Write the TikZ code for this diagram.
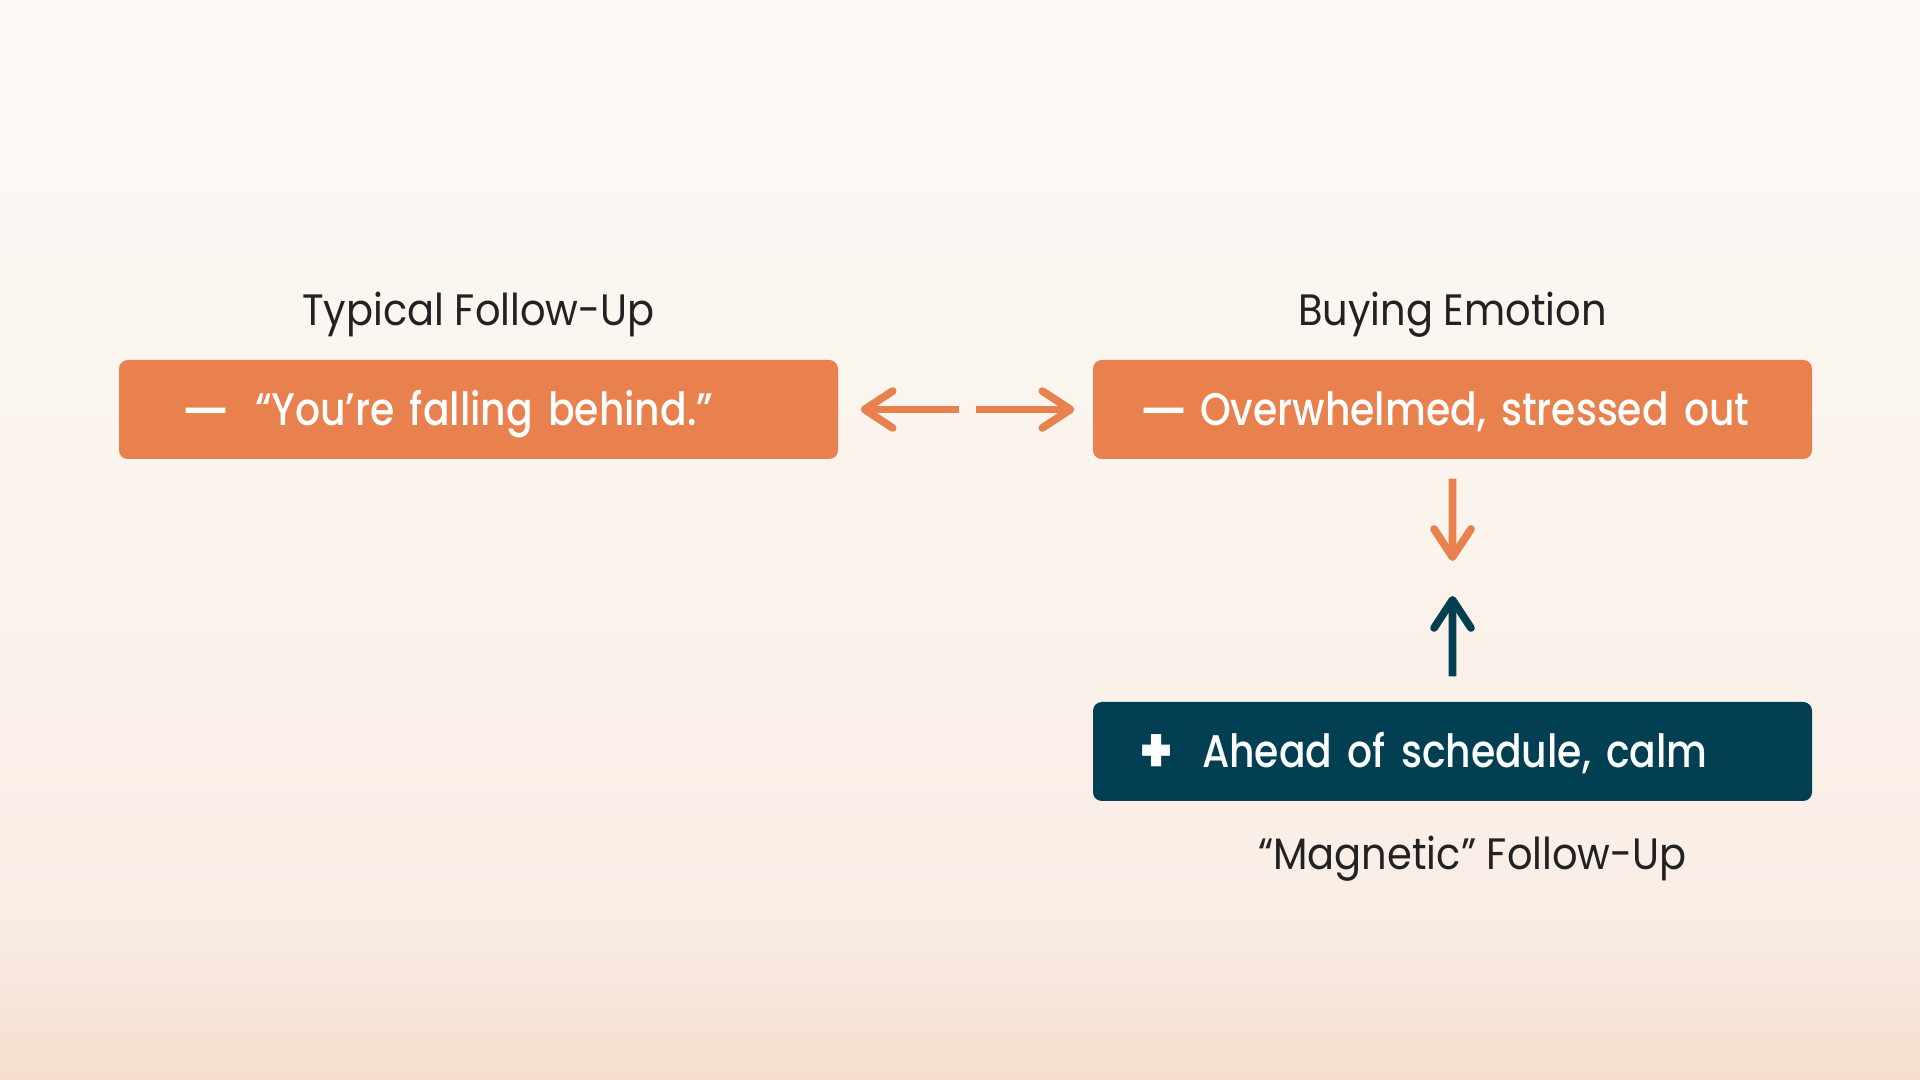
\documentclass[tikz,border=0pt]{standalone}
\usepackage{fontspec}
\usepackage{graphicx}
\setmainfont{Poppins}[FakeStretch=0.91]
\newfontfamily\boxfont{Poppins Medium}[FakeStretch=0.86]
\usetikzlibrary{positioning,arrows.meta,calc}

\definecolor{bgtop}{HTML}{FDFAF6}
\definecolor{bgmid}{HTML}{F9EEE6}
\definecolor{bgbot}{HTML}{F5DECF}
\definecolor{boxorange}{HTML}{E8814E}
\definecolor{boxteal}{HTML}{023F52}
\definecolor{inktext}{HTML}{222222}

\newcommand{\longdash}{\raisebox{-1.6pt}{\scalebox{1.35}[1.25]{—}}}
\newcommand{\bigplus}{\raisebox{-1.5pt}{\fontsize{18}{18}\selectfont\bfseries +}}

\begin{document}
\begin{tikzpicture}[
  orangebox/.style={rectangle, fill=boxorange, rounded corners=2.5pt,
    minimum width=7.19cm, minimum height=0.99cm, inner xsep=0pt,
    text width=7.19cm, align=left, text=white,
    text height=0.92em, text depth=0pt,
    font={\boxfont\fontsize{13}{13}\selectfont}},
  tealbox/.style={orangebox, fill=boxteal},
  heading/.style={text=inktext, font={\fontsize{12.5}{12.5}\selectfont}},
  barb/.style={line width=2.2pt,
    -{Straight Barb[length=8pt, width=10.5pt, line cap=round, line join=round]}}
]

\shade [top color=bgtop, bottom color=bgmid] (0,1.8) rectangle (19.2,10.8);
\shade [top color=bgmid, bottom color=bgbot] (0,0) rectangle (19.2,1.8);
\useasboundingbox (0,0) rectangle (19.2,10.8);


\node [orangebox] (typical) at (4.785,6.705)
 {\hspace*{0.62cm}\longdash\hspace{0.25cm}“You’re falling behind.”};

\node [orangebox] (emotion) at (14.525,6.705)
 {\hspace*{0.46cm}\longdash\hspace{0.12cm}Overwhelmed, stressed out};

\node [tealbox] (magnetic) at (14.525,3.285)
 {\hspace*{0.47cm}\bigplus\hspace{0.3cm}Ahead of schedule, calm};


\node [heading, above=0.1cm of typical] (typical-title) {Typical Follow-Up};
\node [heading, above=0.1cm of emotion] (emotion-title) {Buying Emotion};
\node [heading, below=0.22cm of magnetic, xshift=0.2cm] (magnetic-title)
 {“Magnetic” Follow-Up};


\coordinate (hgap) at ($(typical.east)!0.5!(emotion.west)$);
\coordinate (vgap) at ($(emotion.south)!0.5!(magnetic.north)$);

\draw [barb, draw=boxorange, shorten <=0.065cm, shorten >=0.22cm] (hgap) -- (typical.east);
\draw [barb, draw=boxorange, shorten <=0.105cm, shorten >=0.18cm] (hgap) -- (emotion.west);

\draw [barb, draw=boxorange, shorten <=0.19cm, shorten >=0.195cm] (emotion.south) -- (vgap);
\draw [barb, draw=boxteal, shorten <=0.25cm, shorten >=0.155cm] (magnetic.north) -- (vgap);

%\draw [red] (hgap) circle (2pt);

\end{tikzpicture}
\end{document}
